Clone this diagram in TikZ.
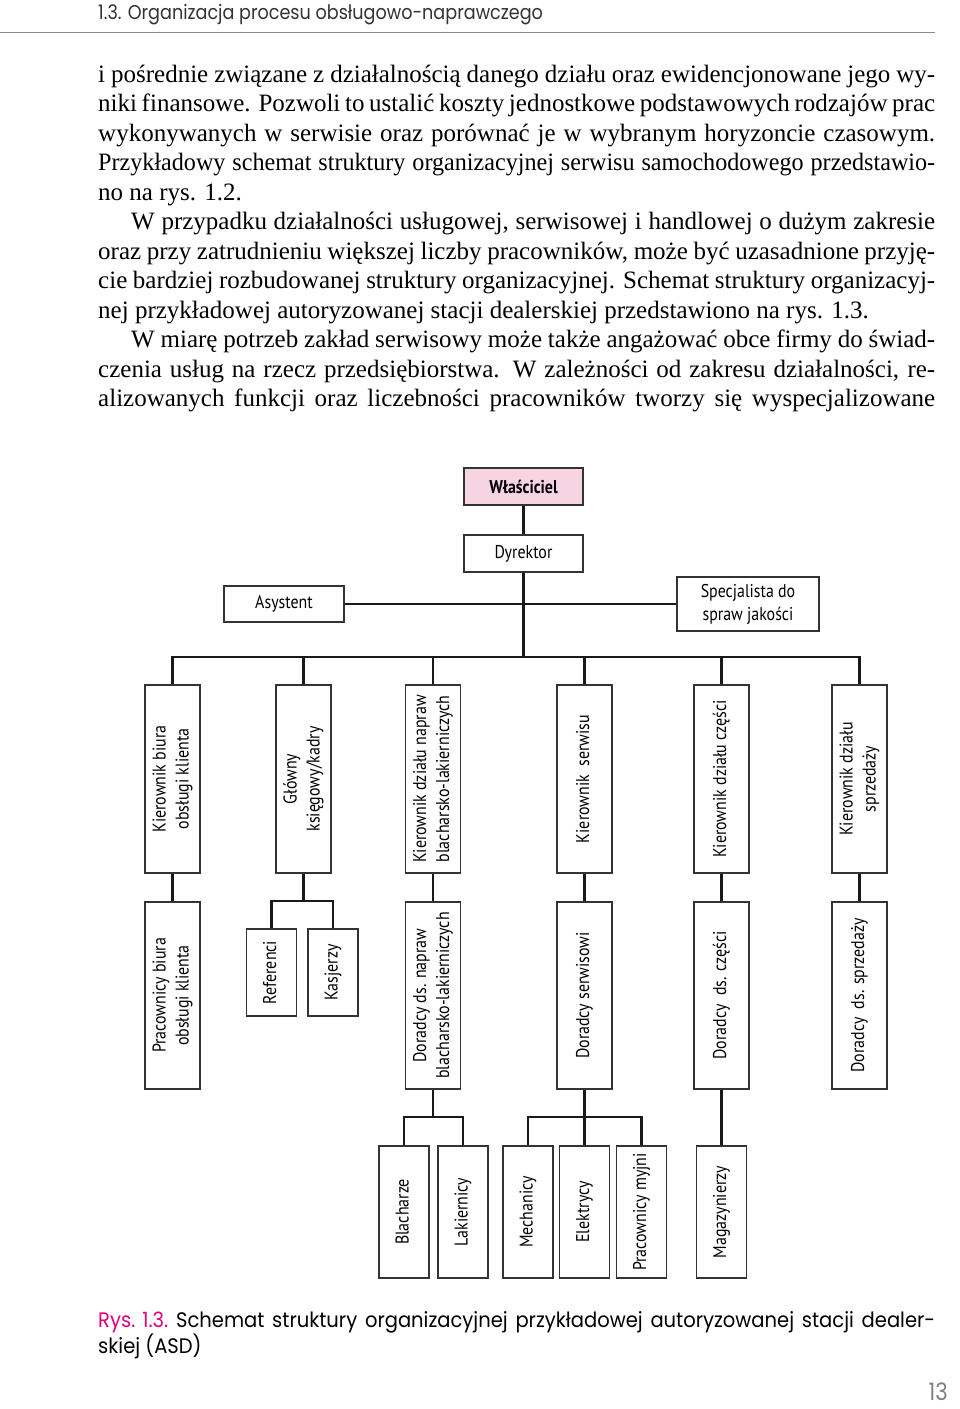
\documentclass[tikz,border=0pt]{standalone}
\usepackage{fontspec}
\usepackage{graphicx}
\setmainfont{Liberation Serif}
\newfontfamily\bodycond[FakeStretch=0.965]{Liberation Serif}
\newfontfamily\boxfont[FakeStretch=0.86]{PT Sans}
\newfontfamily\headfont[FakeStretch=0.88]{Poppins}
\newfontfamily\capfont[FakeStretch=0.93]{Poppins}
\definecolor{rysmag}{RGB}{226,0,122}
\definecolor{ownerpink}{RGB}{247,212,226}
\newcommand\vt[1]{\rotatebox{90}{\begin{tabular}{@{}c@{}}#1\end{tabular}}}
\newcommand\fl[1]{\makebox[837pt][s]{\spaceskip=0.25em plus 1em minus 0.12em\relax #1}}
\newcommand\il[1]{\makebox[804pt][s]{\spaceskip=0.25em plus 1em minus 0.12em\relax #1}}
\begin{document}
\begin{tikzpicture}[x=1pt,y=-1pt,
  box/.style={draw=black!80, line width=1.3pt, fill=white, inner sep=0pt, align=center,
              font=\boxfont\fontsize{18.5}{23}\selectfont},
  topbox/.style={box, minimum width=119pt, minimum height=37pt},
  rowone/.style={box, minimum width=55pt, minimum height=188pt},
  rowtwo/.style={box, minimum width=55pt, minimum height=187pt},
  rowsmall/.style={box, minimum width=50pt, minimum height=87pt},
  rowthree/.style={box, minimum width=50pt, minimum height=132pt},
  conn/.style={line width=2.8pt, draw=black!90},
  body/.style={anchor=base west, inner sep=0pt, font=\fontsize{25}{29.5}\selectfont},
  capt/.style={anchor=base west, inner sep=0pt, font=\capfont\fontsize{21}{26}\selectfont}
]
\useasboundingbox (0,0) rectangle (960,1409);
\fill[white] (0,0) rectangle (960,1409);

% header
\node[anchor=base west, inner sep=0pt, font=\headfont\fontsize{20}{22}\selectfont, text=black!80] (hdr) at (98,19) {1.3. Organizacja procesu obsługowo-naprawczego};
\draw[line width=1.8pt, black!45] (0,32.5) -- (935,32.5);

% body text
\node[body] (b1) at (98,82) {\fl{i pośrednie związane z działalnością danego działu oraz ewidencjonowane jego wy-}};
\node[body] (b2) at (98,111.5) {\fl{niki finansowe. Pozwoli to ustalić koszty jednostkowe podstawowych rodzajów prac}};
\node[body] (b3) at (98,141) {\fl{wykonywanych w serwisie oraz porównać je w wybranym horyzoncie czasowym.}};
\node[body, font=\bodycond\fontsize{25}{29.5}\selectfont] (b4) at (98,170.5) {\fl{Przykładowy schemat struktury organizacyjnej serwisu samochodowego przedstawio-}};
\node[body] (b5) at (98,200) {no na rys. 1.2.};
\node[body] (b6) at (131,229.5) {\il{W przypadku działalności usługowej, serwisowej i handlowej o dużym zakresie}};
\node[body] (b7) at (98,259) {\fl{oraz przy zatrudnieniu większej liczby pracowników, może być uzasadnione przyję-}};
\node[body] (b8) at (98,288.5) {\fl{cie bardziej rozbudowanej struktury organizacyjnej. Schemat struktury organizacyj-}};
\node[body] (b9) at (98,318) {nej przykładowej autoryzowanej stacji dealerskiej przedstawiono na rys. 1.3.};
\node[body] (b10) at (131,347.5) {\il{W miarę potrzeb zakład serwisowy może także angażować obce firmy do świad-}};
\node[body] (b11) at (98,377) {\fl{czenia usług na rzecz przedsiębiorstwa. W zależności od zakresu działalności, re-}};
\node[body] (b12) at (98,406.5) {\fl{alizowanych funkcji oraz liczebności pracowników tworzy się wyspecjalizowane}};

% top of chart
\node[topbox, fill=ownerpink, font=\boxfont\bfseries\fontsize{18.5}{23}\selectfont] (wl) at (523.5,486.5) {Właściciel};
\node[topbox] (dyr) at (523.5,553.5) {Dyrektor};
\node[box, minimum width=120pt, minimum height=36pt] (asy) at (284,604) {Asystent};
\node[box, minimum width=142pt, minimum height=54pt] (spec) at (748,604) {Specjalista do\\spraw jakości};

% row 1
\node[rowone] (k1) at (172.5,779) {\vt{Kierownik biura\\obsługi klienta}};
\node[rowone] (k2) at (303.5,779) {\vt{Główny\\księgowy/kadry}};
\node[rowone] (k3) at (433,779) {\vt{Kierownik działu napraw\\blacharsko-lakierniczych}};
\node[rowone] (k4) at (584.5,779) {\vt{Kierownik~~serwisu}};
\node[rowone] (k5) at (721.5,779) {\vt{Kierownik działu części}};
\node[rowone] (k6) at (859.5,779) {\vt{Kierownik działu\\sprzedaży}};

% row 2
\node[rowtwo] (p1) at (172.5,995.5) {\vt{Pracownicy biura\\obsługi klienta}};
\node[rowsmall] (ref) at (271.5,972.5) {\vt{Referenci}};
\node[rowsmall] (kas) at (333,972.5) {\vt{Kasjerzy}};
\node[rowtwo] (p3) at (433,995.5) {\vt{Doradcy ds. napraw\\blacharsko-lakierniczych}};
\node[rowtwo] (p4) at (584.5,995.5) {\vt{Doradcy serwisowi}};
\node[rowtwo] (p5) at (721.5,995.5) {\vt{Doradcy~~ds. części}};
\node[rowtwo] (p6) at (859.5,995.5) {\vt{Doradcy~~ds. sprzedaży}};

% row 3
\node[rowthree] (bl) at (404,1212) {\vt{Blacharze}};
\node[rowthree] (lk) at (463,1212) {\vt{Lakiernicy}};
\node[rowthree] (me) at (528,1212) {\vt{Mechanicy}};
\node[rowthree] (el) at (584.5,1212) {\vt{Elektrycy}};
\node[rowthree] (my) at (641.5,1212) {\vt{Pracownicy myjni}};
\node[rowthree] (mg) at (721.5,1212) {\vt{Magazynierzy}};

% connectors
\coordinate (bus) at (0,657);
\coordinate (j2) at (303.5,901);
\coordinate (j3) at (433,1117);
\coordinate (j4) at (584.5,1117);
\draw[conn] (wl.south) -- (dyr.north);
\draw[conn] (asy.east) -- (spec.west);
\draw[conn] (dyr.south) -- (dyr.south |- bus);
\draw[conn] (k1.north) -- (k1.north |- bus) -- (k6.north |- bus) -- (k6.north);
\draw[conn] (k2.north) -- (k2.north |- bus);
\draw[conn] (k3.north) -- (k3.north |- bus);
\draw[conn] (k4.north) -- (k4.north |- bus);
\draw[conn] (k5.north) -- (k5.north |- bus);
\draw[conn] (k1.south) -- (p1.north);
\draw[conn] (k2.south) -- (j2);
\draw[conn] (ref.north) |- (j2) -| (kas.north);
\draw[conn] (k3.south) -- (p3.north);
\draw[conn] (k4.south) -- (p4.north);
\draw[conn] (k5.south) -- (p5.north);
\draw[conn] (k6.south) -- (p6.north);
\draw[conn] (p3.south) -- (j3);
\draw[conn] (bl.north) |- (j3) -| (lk.north);
\draw[conn] (p4.south) -- (j4);
\draw[conn] (me.north) |- (j4) -| (my.north);
\draw[conn] (j4) -- (el.north);
\draw[conn] (p5.south) -- (mg.north);

% caption
\node[capt] (cap1) at (98,1327) {\fl{\mbox{\textcolor{rysmag}{Rys. 1.3.}} Schemat struktury organizacyjnej przykładowej autoryzowanej stacji dealer-}};
\node[capt] (cap2) at (98,1353) {skiej (ASD)};
\node[anchor=base east, inner sep=0pt, font=\headfont\fontsize{24}{28}\selectfont, text=black!50] (pg) at (948,1400) {13};
\end{tikzpicture}
\end{document}
